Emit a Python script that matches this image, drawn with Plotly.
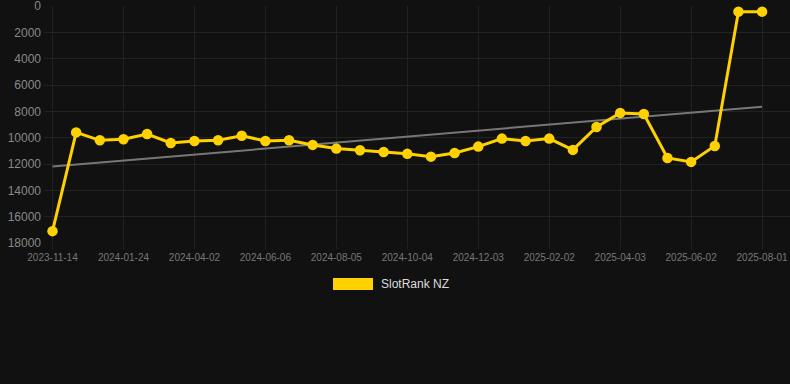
import numpy as np
import plotly.graph_objects as go

dates = ["2023-11-14", "2023-12-08", "2024-01-01", "2024-01-24", "2024-02-16", "2024-03-10",
         "2024-04-02", "2024-04-24", "2024-05-15", "2024-06-06", "2024-06-26", "2024-07-16",
         "2024-08-05", "2024-08-25", "2024-09-14", "2024-10-04", "2024-10-24", "2024-11-13",
         "2024-12-03", "2024-12-23", "2025-01-13", "2025-02-02", "2025-02-22", "2025-03-14",
         "2025-04-03", "2025-04-23", "2025-05-13", "2025-06-02", "2025-06-22", "2025-07-12",
         "2025-08-01"]
rank = [17100, 9600, 10200, 10120, 9720, 10400, 10250, 10200, 9850, 10250, 10200, 10550,
        10830, 10960, 11090, 11230, 11440, 11160, 10680, 10070, 10250, 10070, 10930, 9190,
        8120, 8200, 11540, 11840, 10630, 430, 430]
tick_labels = dates[::3]
y_ticks = [0, 2000, 4000, 6000, 8000, 10000, 12000, 14000, 16000, 18000]
series_name = "SlotRank NZ"

idx = np.arange(len(rank))
slope, intercept = np.polyfit(idx, rank, 1)
trend = (slope * idx + intercept).tolist()

fig = go.Figure()
fig.add_trace(go.Scatter(x=dates, y=trend, mode="lines",
                         line=dict(color="#777777", width=2), showlegend=False, hoverinfo="skip"))
fig.add_trace(go.Scatter(x=dates, y=rank, mode="lines+markers", name=series_name,
                         line=dict(color="#FFD100", width=3),
                         marker=dict(color="#FFD100", size=10.5), showlegend=False))

fig.update_layout(
    width=790, height=384,
    margin=dict(l=44, r=0, t=6, b=141),
    paper_bgcolor="#111111", plot_bgcolor="#111111",
    font=dict(family="Liberation Sans, Arial, sans-serif", color="#888888"),
    xaxis=dict(type="category", categoryorder="array", categoryarray=dates,
               range=[-0.36, 31.18], tickmode="array", tickvals=tick_labels, ticktext=tick_labels,
               showgrid=True, gridcolor="#222222", gridwidth=1,
               ticks="outside", ticklen=5, tickcolor="#222222",
               tickfont=dict(size=10, color="#777777"), zeroline=False, showline=False,
               ticklabeloverflow="allow"),
    yaxis=dict(range=[18000, 0], tickvals=y_ticks, ticktext=[str(v) for v in y_ticks],
               showgrid=True, gridcolor="#222222", gridwidth=1, zeroline=False,
               tickfont=dict(size=12, color="#888888"), ticks="", ticklabelstandoff=2,
               ticklabeloverflow="allow"),
    showlegend=False,
    shapes=[dict(type="rect", xref="paper", yref="paper", x0=(333 - 44) / 746, x1=(373 - 44) / 746,
                 y0=-(278 - 243) / 237, y1=-(290 - 243) / 237,
                 fillcolor="#FFD100", line=dict(width=0))],
    annotations=[dict(text=series_name, xref="paper", yref="paper", x=(379 - 44) / 746,
                      y=-(284 - 243) / 237, xanchor="left", yanchor="middle", showarrow=False,
                      font=dict(size=12, color="#dddddd"))],
)

fig.write_html("out.html", config={"displayModeBar": False},
               post_script="document.body.style.margin='0';document.body.style.background='#111111';")
